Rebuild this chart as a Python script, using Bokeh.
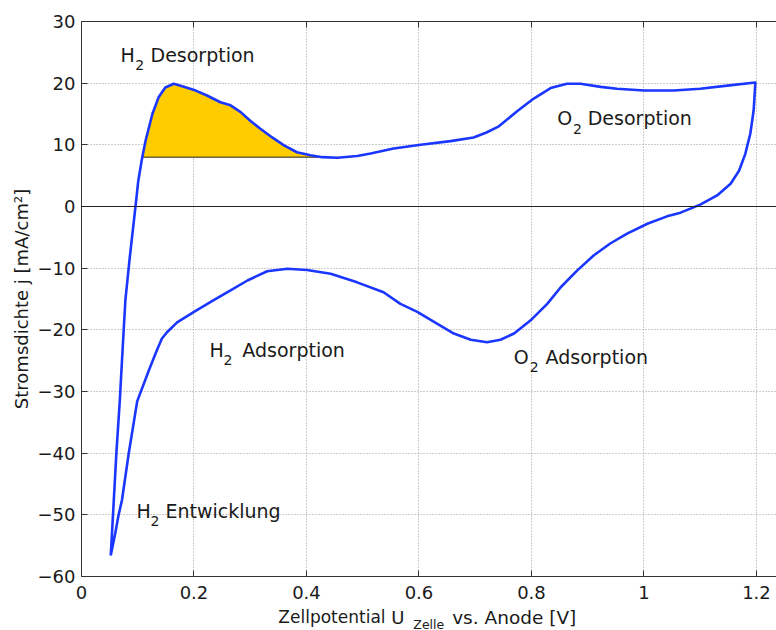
from bokeh.plotting import figure
from bokeh.models import Range1d, FixedTicker, LinearAxis, Span, Label
from bokeh.layouts import column
from bokeh.embed import file_html
from bokeh.resources import INLINE

# ---- data ----
upper_x = [0.052, 0.056, 0.062, 0.068, 0.073, 0.078, 0.086, 0.096, 0.101, 0.108,
           0.114, 0.126, 0.137, 0.149, 0.164, 0.182, 0.203, 0.223, 0.247, 0.265,
           0.283, 0.300, 0.318, 0.339, 0.360, 0.383, 0.407, 0.428, 0.455, 0.490,
           0.514, 0.555, 0.603, 0.656, 0.697, 0.720, 0.742, 0.775, 0.804, 0.834,
           0.863, 0.887, 0.923, 0.952, 1.000, 1.053, 1.100, 1.148, 1.198]
upper_y = [-56.6, -50.0, -40.0, -31.6, -23.3, -15.2, -8.1, 0.0, 4.2, 8.0,
           10.7, 15.0, 17.7, 19.3, 19.9, 19.4, 18.8, 18.0, 16.9, 16.4,
           15.3, 13.9, 12.6, 11.2, 9.9, 8.8, 8.3, 8.0, 7.9, 8.2,
           8.6, 9.4, 10.0, 10.6, 11.2, 12.0, 13.0, 15.5, 17.5, 19.2,
           19.9, 19.9, 19.4, 19.1, 18.8, 18.8, 19.1, 19.6, 20.1]
lower_x = [1.195, 1.189, 1.180, 1.169, 1.154, 1.130, 1.100, 1.065, 1.041, 1.006,
           0.970, 0.940, 0.911, 0.881, 0.852, 0.828, 0.798, 0.769, 0.745, 0.721,
           0.692, 0.662, 0.632, 0.597, 0.567, 0.537, 0.490, 0.443, 0.401, 0.366,
           0.330, 0.295, 0.265, 0.235, 0.200, 0.170, 0.152, 0.143, 0.134, 0.120,
           0.099, 0.084, 0.072, 0.066, 0.060, 0.052]
lower_y = [15.6, 11.8, 8.5, 5.8, 3.7, 1.8, 0.3, -1.0, -1.6, -2.8,
           -4.4, -6.0, -7.9, -10.4, -13.1, -15.8, -18.5, -20.6, -21.6, -22.0,
           -21.6, -20.6, -19.0, -17.1, -15.8, -13.9, -12.3, -10.9, -10.3, -10.1,
           -10.5, -12.0, -13.6, -15.2, -17.1, -18.8, -20.4, -21.4, -23.3, -26.5,
           -31.6, -40.0, -47.6, -50.0, -53.0, -56.6]

fill_base = 8.0
fill_start = 0.108
fill_end = 0.428

x_ticks = [0, 0.2, 0.4, 0.6, 0.8, 1.0, 1.2]
x_tick_labels = ["0", "0.2", "0.4", "0.6", "0.8", "1", "1.2"]
y_ticks = [-60, -50, -40, -30, -20, -10, 0, 10, 20, 30]

FONT = "DejaVu Sans"
LINE_BLUE = "#1a36ff"
FILL_YELLOW = "#ffcc00"
AX = "#333333"
TXT = "#1a1a1a"

X_END = 1.2356

p = figure(width=776, height=606, x_range=Range1d(0, X_END), y_range=Range1d(-60, 30),
           output_backend="svg", toolbar_location=None,
           min_border_left=81, min_border_right=0, min_border_top=21, min_border_bottom=30)
p.outline_line_color = None
p.background_fill_color = "white"
p.border_fill_color = "white"

# grid
for g in (p.xgrid, p.ygrid):
    g.grid_line_color = "#9a9a9a"
    g.grid_line_dash = "1 2"
    g.grid_line_width = 1
p.xgrid.ticker = FixedTicker(ticks=x_ticks)
p.ygrid.ticker = FixedTicker(ticks=y_ticks)

# axes
xa = p.xaxis[0]
ya = p.yaxis[0]
xa.ticker = FixedTicker(ticks=x_ticks)
xa.major_label_overrides = {t: l for t, l in zip(x_ticks, x_tick_labels)}
ya.ticker = FixedTicker(ticks=y_ticks)
for a in (xa, ya):
    a.axis_line_color = AX
    a.major_tick_line_color = AX
    a.major_tick_in = 6
    a.major_tick_out = 0
    a.minor_tick_line_color = None
    a.major_label_text_font = FONT
    a.major_label_text_font_size = "18px"
    a.major_label_text_color = TXT
xa.major_label_standoff = 9
ya.major_label_standoff = 6
ya.axis_label = "Stromsdichte j [mA/cm²]"
ya.axis_label_text_font = FONT
ya.axis_label_text_font_size = "18px"
ya.axis_label_text_font_style = "normal"
ya.axis_label_text_color = TXT
ya.axis_label_standoff = 3

top = LinearAxis(ticker=FixedTicker(ticks=x_ticks),
                 major_label_overrides={t: "" for t in x_ticks},
                 axis_line_color=AX, major_tick_line_color=AX, major_tick_in=6,
                 major_tick_out=0, minor_tick_line_color=None, major_label_standoff=0)
p.add_layout(top, "above")

# zero line
p.add_layout(Span(location=0, dimension="width", line_color="#222222", line_width=1))

# filled H2 desorption area
fx = [x for x in upper_x if fill_start <= x <= fill_end]
fy = [y for x, y in zip(upper_x, upper_y) if fill_start <= x <= fill_end]
p.varea(x=fx, y1=[fill_base] * len(fx), y2=fy, fill_color=FILL_YELLOW)
p.line([fx[0], fx[-1]], [fill_base, fill_base], line_color="#222222", line_width=1)

# CV curve
cx = upper_x + lower_x
cy = upper_y + lower_y
p.line(cx, cy, line_color=LINE_BLUE, line_width=2.6, line_join="round")


def lab(fig, x, y, text, size="19px"):
    fig.add_layout(Label(x=x, y=y, text=text, text_font=FONT, text_font_size=size,
                         text_color=TXT, text_baseline="alphabetic", text_align="left"))


# annotations
lab(p, 0.0693, 24.5, "H")
lab(p, 0.0955, 22.9, "2", "14px")
lab(p, 0.1227, 24.5, "Desorption")
lab(p, 0.846, 14.4, "O")
lab(p, 0.874, 12.6, "2", "14px")
lab(p, 0.900, 14.4, "Desorption")
lab(p, 0.2276, -23.3, "H")
lab(p, 0.2524, -24.9, "2", "14px")
lab(p, 0.286, -23.3, "Adsorption")
lab(p, 0.7686, -24.4, "O")
lab(p, 0.797, -26.0, "2", "14px")
lab(p, 0.825, -24.4, "Adsorption")
lab(p, 0.0978, -49.4, "H")
lab(p, 0.1227, -51.0, "2", "14px")
lab(p, 0.1493, -49.4, "Entwicklung")

# x axis label strip (composed with a subscript), y in pixels from strip bottom
q = figure(width=776, height=24, x_range=Range1d(0, X_END), y_range=Range1d(0, 24),
           output_backend="svg", toolbar_location=None,
           x_axis_location=None, y_axis_location=None,
           min_border_left=81, min_border_right=0, min_border_top=0, min_border_bottom=0)
q.outline_line_color = None
q.grid.visible = False
q.background_fill_color = "white"
q.border_fill_color = "white"
lab(q, 0.350, 13.5, "Zellpotential", "17px")
lab(q, 0.5505, 13.5, "U", "18px")
lab(q, 0.590, 6.5, "Zelle", "12.5px")
lab(q, 0.659, 13.5, "vs. Anode [V]", "18.5px")

layout = column(p, q, spacing=0)
open("out.html", "w").write(file_html(layout, INLINE))
